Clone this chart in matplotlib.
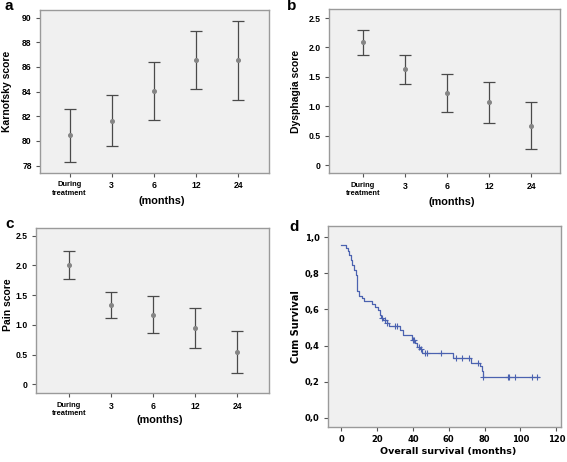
import numpy as np
import matplotlib
matplotlib.use("Agg")
import matplotlib.pyplot as plt

# ---- data ----
categories = ["During\ntreatment", "3", "6", "12", "24"]

karnofsky_mean = [80.45, 81.65, 84.05, 86.55, 86.55]
karnofsky_low = [78.3, 79.55, 81.7, 84.2, 83.3]
karnofsky_high = [82.55, 83.75, 86.4, 88.9, 89.75]

dysphagia_mean = [2.09, 1.63, 1.23, 1.07, 0.67]
dysphagia_low = [1.88, 1.38, 0.90, 0.72, 0.27]
dysphagia_high = [2.30, 1.88, 1.55, 1.41, 1.07]

pain_mean = [2.01, 1.33, 1.17, 0.95, 0.54]
pain_low = [1.77, 1.11, 0.87, 0.61, 0.19]
pain_high = [2.25, 1.56, 1.48, 1.29, 0.89]

km_times = [0, 2.4, 3.5, 4.3, 5.2, 6.2, 7.1, 8.0, 8.6, 8.9, 9.9, 11.4, 12.9, 17.4,
            18.8, 20.7, 21.6, 22.2, 23.5, 25.4, 26.7, 32.8, 34.3, 39.3, 41.1, 42.4,
            44.1, 45.2, 62.5, 72.2, 77.4, 78.3, 78.9]
km_surv = [0.96, 0.94, 0.924, 0.902, 0.874, 0.846, 0.818, 0.79, 0.763, 0.70, 0.675,
           0.662, 0.649, 0.63, 0.612, 0.597, 0.569, 0.551, 0.542, 0.523, 0.508, 0.486,
           0.458, 0.431, 0.412, 0.394, 0.38, 0.357, 0.333, 0.301, 0.288, 0.26, 0.224]
km_end = 110.5
km_censored = [22.5, 24.5, 25.5, 29.9, 31.2, 39.8, 40.6, 43.5, 44.5, 46.5, 47.8, 55.5,
               64, 67.2, 71.3, 76.1, 79.2, 92.9, 93.8, 96.9, 106.6, 109.4]

# ---- style ----
BG = "#f0f0f0"
FRAME = "#9a9a9a"
BAR = "#4a4a4a"
DOT = "#858585"
CURVE = "#4b62b0"
FONT_A = "Liberation Sans"
FONT_D = "DejaVu Sans"

fig = plt.figure(figsize=(5.67, 4.62), dpi=100)


def style_axes(ax, family):
    ax.set_facecolor(BG)
    for s in ax.spines.values():
        s.set_color(FRAME)
        s.set_linewidth(1.0)
    ax.tick_params(direction="out", length=3, width=0.8, color="#555555",
                   labelsize=6.2, pad=3)
    for lab in ax.get_xticklabels() + ax.get_yticklabels():
        lab.set_family(family)


def errpanel(rect, mean, low, high, ylim, yticks, yticklabels, ylabel, ylab_x, xlab_y, xlim):
    ax = fig.add_axes(rect)
    x = np.arange(len(categories))
    mean = np.array(mean)
    yerr = [mean - np.array(low), np.array(high) - mean]
    ax.errorbar(x, mean, yerr=yerr, fmt="o", color=BAR, ecolor=BAR, elinewidth=0.9,
                capsize=4.2, capthick=0.9, markersize=2.6, markerfacecolor=DOT,
                markeredgecolor=DOT)
    ax.set_xlim(*xlim)
    ax.set_ylim(*ylim)
    ax.set_xticks(x)
    ax.set_xticklabels(categories, linespacing=1.3)
    ax.set_yticks(yticks)
    ax.set_yticklabels(yticklabels)
    style_axes(ax, FONT_A)
    for lab in ax.get_xticklabels():
        lab.set_fontweight("bold")
    for lab in ax.get_yticklabels():
        lab.set_fontweight("bold")
    ax.get_xticklabels()[0].set_fontsize(5.4)
    ax.set_ylabel(ylabel, family=FONT_A, fontweight="bold", fontsize=7.5, va="center")
    ax.yaxis.set_label_coords(ylab_x, 0.5)
    ax.set_xlabel("(months)", family=FONT_A, fontweight="bold", fontsize=7.8, va="center")
    ax.xaxis.set_label_coords(0.53, xlab_y)
    return ax


ax_a = errpanel([0.0705, 0.6255, 0.404, 0.353], karnofsky_mean, karnofsky_low, karnofsky_high,
                (77.4, 90.62), [78, 80, 82, 84, 86, 88, 90],
                ["78", "80", "82", "84", "86", "88", "90"], "Karnofsky score", -0.143, -0.172,
                (-0.7, 4.73))
ax_b = errpanel([0.5802, 0.6249, 0.408, 0.355], dysphagia_mean, dysphagia_low, dysphagia_high,
                (-0.14, 2.65), [0, 0.5, 1.0, 1.5, 2.0, 2.5],
                ["0", "0.5", "1.0", "1.5", "2.0", "2.5"], "Dysphagia score", -0.141, -0.173,
                (-0.81, 4.69))
ax_c = errpanel([0.0635, 0.1487, 0.4115, 0.3584], pain_mean, pain_low, pain_high,
                (-0.15, 2.635), [0, 0.5, 1.0, 1.5, 2.0, 2.5],
                ["0", "0.5", "1.0", "1.5", "2.0", "2.5"], "Pain score", -0.119, -0.161,
                (-0.78, 4.76))
ax_c.yaxis.set_label_coords(-0.119, 0.533)

# ---- Kaplan-Meier panel ----
ax_d = fig.add_axes([0.5785, 0.0764, 0.4115, 0.4344])
t_steps = np.array(km_times + [km_end])
s_steps = np.array(km_surv + [km_surv[-1]])
ax_d.step(t_steps, s_steps, where="post", color=CURVE, lw=0.9)
cens = np.array(km_censored)
idx = np.searchsorted(np.array(km_times), cens, side="right") - 1
ax_d.plot(cens, np.array(km_surv)[idx], linestyle="none", marker="+", markersize=4,
          color=CURVE, markeredgewidth=0.8)
ax_d.set_xlim(-7.4, 122.8)
ax_d.set_ylim(-0.05, 1.063)
ax_d.set_xticks([0, 20, 40, 60, 80, 100, 120])
ax_d.set_yticks([0, 0.2, 0.4, 0.6, 0.8, 1.0])
ax_d.set_yticklabels(["0,0", "0,2", "0,4", "0,6", "0,8", "1,0"])
style_axes(ax_d, FONT_D)
for lab in ax_d.get_xticklabels() + ax_d.get_yticklabels():
    lab.set_fontweight("bold")
    lab.set_fontsize(6.0)
ax_d.set_ylabel("Cum Survival", family=FONT_D, fontweight="bold", fontsize=7.0, va="center")
ax_d.yaxis.set_label_coords(-0.136, 0.5)
ax_d.set_xlabel("Overall survival (months)", family=FONT_D, fontweight="bold", fontsize=6.8,
                va="center")
ax_d.xaxis.set_label_coords(0.514, -0.125)

# ---- panel letters ----
for letter, (px, py) in {"a": (9, 6), "b": (292, 6), "c": (10, 224), "d": (294, 227)}.items():
    fig.text(px / 567, 1 - py / 462, letter, family=FONT_A, fontweight="bold",
             fontsize=11, ha="center", va="center")

fig.savefig("out.png", dpi=100, facecolor="white")
